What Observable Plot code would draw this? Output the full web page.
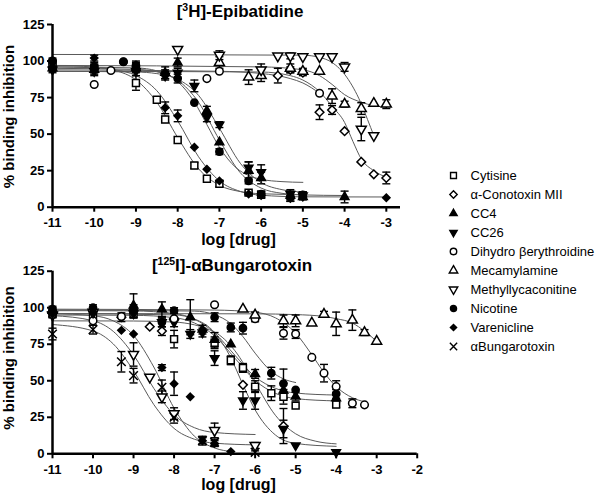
<!DOCTYPE html>
<html><head><meta charset="utf-8">
<script src="https://cdn.jsdelivr.net/npm/d3@7"></script>
<script src="https://cdn.jsdelivr.net/npm/@observablehq/plot@0.6"></script>
<style>
body{margin:0;background:#fff;}
#wrap{position:relative;width:609px;height:502px;overflow:hidden;background:#fff;font-family:Arial,"Liberation Sans",sans-serif;}
#wrap > svg{position:absolute;}
</style></head><body><div id="wrap"></div>
<script>
// ---------- categories & ticks ----------
const drugs = ["Cytisine","α-Conotoxin MII","CC4","CC26","Dihydro βerythroidine","Mecamylamine","Methyllycaconitine","Nicotine","Varenicline","αBungarotoxin"];
const epiTicksX = [-11,-10,-9,-8,-7,-6,-5,-4,-3];
const bgtTicksX = [-11,-10,-9,-8,-7,-6,-5,-4,-3,-2];
const ticksY = [0,25,50,75,100,125];

// ---------- [3H]-Epibatidine: [log dose, % inhibition, error] ----------
const epi_cytisine = [[-11,97,3],[-10,95,3],[-9,85,5],[-8.5,73.5,0],[-8.3,60,2],[-8,46,0],[-7.6,28.5,2],[-7.3,19.5,0],[-7,16,2],[-6.3,10,1],[-6,8.5,2],[-5,8,1]];
const epi_conotoxin = [[-5.6,90,5],[-5.3,94,2],[-5,92,2],[-4.6,65,5],[-4.3,66.5,3],[-4,52,0],[-3.6,31,0],[-3.3,22.5,0],[-3,20,4]];
const epi_cc4 = [[-11,95,2],[-10,94,3],[-9,95,3],[-8.3,92,4],[-8,99,3],[-7.3,66,3],[-7,44.5,0],[-6.3,25,6],[-6,20,4],[-5.3,8,3],[-5,7,2],[-4,7,4]];
const epi_cc26 = [[-11,94,2],[-10,93,3],[-9,93,3],[-8.3,90,3],[-8,92,3],[-7.6,83,4],[-7.3,61.5,3],[-7,56.5,2],[-6.3,27,4],[-6,24,5],[-5.3,9,3],[-5,8,2]];
const epi_dihydro = [[-11,100,0],[-10,84,0],[-9.6,93.5,0],[-9.3,99.5,0],[-7.3,88,0],[-7,93,0],[-4.6,78,0]];
const epi_mecamylamine = [[-7,99,4],[-6.3,89,5],[-6,90,4],[-5.3,95,3],[-5,93,2],[-4.6,93,0],[-4.3,76,5],[-4,70.5,2],[-3.6,67.5,4],[-3.3,71,0],[-3,70.5,3]];
const epi_mla = [[-8,108,0],[-7,104,3],[-6,94,4],[-5.6,103.5,0],[-5.3,103.5,2],[-5,103,0],[-4.6,103,0],[-4.3,103,0],[-4,96,3],[-3.6,53.5,8],[-3.3,49,0]];
const epi_nicotine = [[-11,100,2],[-10,96,3],[-9.3,99.5,0],[-9,97,3],[-8.3,91,3],[-8,88,3],[-7.6,71.5,0],[-7,38,2],[-6.3,18,2],[-6,9,2],[-5.3,7,3],[-5,8.5,2]];
const epi_varenicline = [[-11,96,2],[-10,102,2],[-9,96,3],[-8.3,68,4],[-8,62.5,4],[-7.6,41,0],[-7.3,26,0],[-7,18,0],[-6.3,9,1],[-6,8,1],[-5.3,6,2],[-5,7,1],[-3,6.5,0]];
const epi_bungarotoxin = [];

// fitted curves: [log dose, %]
const fitEpi_cytisine = [[-11,97],[-10,95.9],[-9.5,93.6],[-9,87.1],[-8.5,71.8],[-8,47.7],[-7.5,26.3],[-7,15],[-6.5,10.7],[-6,9.2],[-5,8.6]];
const fitEpi_conotoxin = [[-11,93],[-6,92.5],[-5.3,90],[-5,87],[-4.6,79],[-4.3,69],[-4,58],[-3.8,45],[-3.6,33],[-3.3,25],[-3,20.5]];
const fitEpi_cc4 = [[-11,95],[-9,94.3],[-8.5,92.6],[-8,86.9],[-7.5,71.8],[-7,46],[-6.5,23.6],[-6,13.1],[-5.5,9.5],[-5,8.4],[-4,8]];
const fitEpi_cc26 = [[-11,93],[-9,92.5],[-8.5,91.4],[-8,87.6],[-7.5,76.5],[-7,54],[-6.5,30.1],[-6,16.9],[-5.5,12],[-5,10.4]];
const fitEpi_dihydro = [[-11,94],[-7,93],[-6,91.5],[-5.3,88],[-5,85],[-4.6,78]];
const fitEpi_mecamylamine = [[-11,97],[-6,96],[-5,94],[-4.6,90],[-4.3,84],[-4,77],[-3.6,71.8],[-3.3,69.5],[-3,68.5]];
const fitEpi_mla = [[-11,104.5],[-5,104],[-4.6,102.5],[-4.3,99],[-3.95,89],[-3.62,72],[-3.45,60],[-3.3,49]];
const fitEpi_nicotine = [[-11,96],[-9,95.3],[-8.5,93.3],[-8,86],[-7.6,72],[-7.3,56.5],[-7,41],[-6.6,27],[-6.3,21.7],[-6,19.1],[-5.5,17.5],[-5,17]];
const fitEpi_varenicline = [[-11,96],[-10,95.4],[-9.5,94],[-9,90.1],[-8.5,79.7],[-8,59.1],[-7.5,34.5],[-7,18],[-6.5,10.8],[-6,8.2],[-5,7.1],[-3,7]];
const fitEpi_bungarotoxin = [];

// ---------- [125I]-αBungarotoxin ----------
const bgt_cytisine = [[-11,96,2],[-10,95,2],[-9,96,3],[-8,78.5,6],[-7,76,4],[-6.6,64,3],[-6.3,58.8,3],[-6,46,4],[-5.6,41.5,5],[-5.3,39,5],[-5,33,0],[-4,33.7,2]];
const bgt_conotoxin = [[-9.3,93.5,3],[-8.6,87,0],[-8.3,84,3],[-8,92.5,0],[-6.3,47.2,0],[-5.3,19,12]];
const bgt_cc4 = [[-11,98,2],[-9,101.5,8],[-8.3,99,5],[-7.6,93.5,12],[-7.3,85,3],[-7,78,5],[-6.6,75,0],[-6,54.7,3],[-5.3,43.3,5],[-5,39.2,3],[-4,38,3]];
const bgt_cc26 = [[-11,95.5,2],[-10,96,2],[-9,96,3],[-8.3,90,3],[-8,90,3],[-7.6,82,3],[-7.3,83,3],[-7,65.5,5],[-6.3,36.5,6],[-6,36.5,6],[-5.3,17,6],[-5,5.7,0],[-4,1.1,0]];
const bgt_dihydro = [[-10,91,3],[-9.3,94,0],[-8,92.5,0],[-7,102,0],[-6,92.4,2],[-5.3,82.5,4],[-5,82,3],[-4.6,66,0],[-4.3,55.2,6],[-4,46,4],[-3.6,34.6,3],[-3.3,33.5,0]];
const bgt_mecamylamine = [[-6.3,99,0],[-6,95,2],[-5.3,91,4],[-5,91,4],[-4.6,89.5,0],[-4.3,95.5,2],[-4,89,8],[-3.6,91.5,7],[-3.3,83,2],[-3,77,0]];
const bgt_mla = [[-11,95,2],[-10,97,2],[-9,68,8],[-8.6,52.5,0],[-8.3,39,4],[-8,27.5,4],[-7,16,5],[-6,5.7,2]];
const bgt_nicotine = [[-11,99,2],[-10,100,2],[-9,99,3],[-8.3,90,3],[-8,98,2],[-7,93.5,3],[-6.6,86.5,3],[-6.3,86,4],[-5.6,55.2,4],[-5.3,48,10],[-5,43.8,0],[-4,41,3]];
const bgt_varenicline = [[-11,96,2],[-10,97,2],[-9.3,84.5,0],[-9,82,0],[-8.3,59,2],[-8,48,8],[-7.6,39,0],[-7.3,9,2],[-7,7,2],[-6.6,1.5,0]];
const bgt_bungarotoxin = [[-11,82,4],[-10,85,3],[-9.3,63,7],[-9,53.5,5],[-8.3,45.5,5],[-8,25,4],[-7.3,9,3],[-7,8,2],[-6,1,1]];

const fitBgt_cytisine = [[-11,95],[-9,94.8],[-8,93.2],[-7.5,89.6],[-7,80.8],[-6.5,65.5],[-6,50.2],[-5.5,41.4],[-5,37.8],[-4,36.2]];
const fitBgt_conotoxin = [[-11,91],[-9,90.9],[-8,90.2],[-7,83.3],[-6.5,70.6],[-6,48.5],[-5.5,26.4],[-5,13.7],[-4.5,8.6],[-4,6.8]];
const fitBgt_cc4 = [[-11,98],[-9,97.8],[-8,96],[-7.5,92.2],[-7,82.8],[-6.5,67.5],[-6,52.7],[-5.5,44.8],[-5,41.6],[-4,40.2]];
const fitBgt_cc26 = [[-11,96],[-8,95.1],[-7.5,92.3],[-7,83],[-6.6,65.7],[-6.3,47.3],[-6,30.1],[-5.5,12.9],[-5,7.1],[-4,5.1]];
const fitBgt_dihydro = [[-11,99],[-7,98.4],[-6,96.9],[-5.5,93.1],[-5,82.6],[-4.6,67.8],[-4.3,55.7],[-4,46],[-3.6,38.4],[-3.3,35.6]];
const fitBgt_mecamylamine = [[-11,96],[-6,95.8],[-5,95.3],[-4.3,94],[-4,92.5],[-3.6,89.5],[-3.3,84],[-3,77]];
const fitBgt_mla = [[-11,94.6],[-10,91.1],[-9.5,83.8],[-9,67.7],[-8.5,44.8],[-8,26.7],[-7.5,17.9],[-7,14.6],[-6,13.2]];
const fitBgt_nicotine = [[-11,98.5],[-7.5,97.7],[-7,95.2],[-6.6,89.1],[-6.3,80.2],[-6,68.9],[-5.6,56.4],[-5.3,51.3],[-5,48.8]];
const fitBgt_varenicline = [[-11,96],[-10,94.5],[-9.5,91],[-9,81],[-8.5,59.4],[-8,31.3],[-7.5,12.1],[-7,4],[-6.55,1.4]];
const fitBgt_bungarotoxin = [[-11,88.5],[-10,84.1],[-9.5,75.2],[-9,56.9],[-8.5,33.7],[-8,17.4],[-7.5,10],[-7,7.3],[-6,6.1]];

// ---------- styles ----------
const triangleDown = {draw(ctx, size){
  const y = -Math.sqrt(size / (Math.sqrt(3) * 3));
  ctx.moveTo(0, -y * 2); ctx.lineTo(-Math.sqrt(3) * y, y); ctx.lineTo(Math.sqrt(3) * y, y); ctx.closePath();
}};
const capSymbol = {draw(ctx, size){
  const w = Math.sqrt(size / Math.PI);
  ctx.moveTo(-w, 0); ctx.lineTo(w, 0);
}};
const styleOf = {
  "Cytisine": {symbol: "square", fill: "white", r: 3.9},
  "α-Conotoxin MII": {symbol: "diamond2", fill: "white", r: 3.9},
  "CC4": {symbol: "triangle", fill: "black", r: 3.2},
  "CC26": {symbol: triangleDown, fill: "black", r: 3.2},
  "Dihydro βerythroidine": {symbol: "circle", fill: "white", r: 3.8},
  "Mecamylamine": {symbol: "triangle", fill: "white", r: 3.7},
  "Methyllycaconitine": {symbol: triangleDown, fill: "white", r: 3.7},
  "Nicotine": {symbol: "circle", fill: "black", r: 3.6},
  "Varenicline": {symbol: "diamond2", fill: "black", r: 3.3},
  "αBungarotoxin": {symbol: "times", fill: "none", r: 4.0}
};

const epiPts = [epi_cytisine, epi_conotoxin, epi_cc4, epi_cc26, epi_dihydro, epi_mecamylamine, epi_mla, epi_nicotine, epi_varenicline, epi_bungarotoxin];
const epiFits = [fitEpi_cytisine, fitEpi_conotoxin, fitEpi_cc4, fitEpi_cc26, fitEpi_dihydro, fitEpi_mecamylamine, fitEpi_mla, fitEpi_nicotine, fitEpi_varenicline, fitEpi_bungarotoxin];
const bgtPts = [bgt_cytisine, bgt_conotoxin, bgt_cc4, bgt_cc26, bgt_dihydro, bgt_mecamylamine, bgt_mla, bgt_nicotine, bgt_varenicline, bgt_bungarotoxin];
const bgtFits = [fitBgt_cytisine, fitBgt_conotoxin, fitBgt_cc4, fitBgt_cc26, fitBgt_dihydro, fitBgt_mecamylamine, fitBgt_mla, fitBgt_nicotine, fitBgt_varenicline, fitBgt_bungarotoxin];

const font = 'Arial, "Liberation Sans", sans-serif';

function panel(ptsList, fitList, xDomain, xTicks, layout) {
  const curves = [], errs = [], caps = [], dots = [];
  drugs.forEach((drug, i) => {
    const st = styleOf[drug];
    const pts = ptsList[i].map(([x, y, e]) => ({x, y, e}));
    const fit = fitList[i].map(([x, y]) => ({x, y}));
    if (fit.length) curves.push(Plot.line(fit, {x: "x", y: "y", curve: "monotone-x", stroke: "#5a5a5a", strokeWidth: 1}));
    const withErr = pts.filter(d => d.e > 0);
    if (withErr.length) {
      errs.push(Plot.ruleX(withErr, {x: "x", y1: d => d.y - d.e, y2: d => d.y + d.e, stroke: "black", strokeWidth: 1.4}));
      caps.push(Plot.dot(withErr.flatMap(d => [{x: d.x, y: d.y + d.e}, {x: d.x, y: d.y - d.e}]),
        {x: "x", y: "y", symbol: capSymbol, r: 4, stroke: "black", strokeWidth: 1.4, fill: "none"}));
    }
    if (pts.length) dots.push(Plot.dot(pts, {x: "x", y: "y", symbol: st.symbol, r: st.r, fill: st.fill, stroke: "black", strokeWidth: 1.5}));
  });
  return Plot.plot({
    width: layout.width, height: layout.height,
    marginLeft: 52, marginRight: layout.marginRight, marginTop: layout.marginTop, marginBottom: layout.marginBottom,
    style: {fontFamily: font, background: "transparent", overflow: "visible", color: "black"},
    x: {domain: xDomain},
    y: {domain: [0, 125]},
    marks: [
      ...curves, ...errs, ...caps, ...dots,
      Plot.ruleY([0], {strokeWidth: 2.5}),
      Plot.ruleX([-11], {strokeWidth: 2.5}),
      Plot.axisX(xTicks, {tickSize: 5, tickPadding: 6, fontSize: 13, fontWeight: "bold", strokeWidth: 2, tickFormat: d => String(d), label: null}),
      Plot.axisY(ticksY, {tickSize: 5, tickPadding: 3, fontSize: 13, fontWeight: "bold", strokeWidth: 2, tickFormat: d => String(d), label: null})
    ]
  });
}

const wrap = document.getElementById("wrap");

const top1 = panel(epiPts, epiFits, [-11, -2.66], epiTicksX, {width: 430, height: 250, marginRight: 30, marginTop: 24, marginBottom: 43.3});
top1.style.left = "0px"; top1.style.top = "0px";
wrap.appendChild(top1);

const bot1 = panel(bgtPts, bgtFits, [-11, -2], bgtTicksX, {width: 430, height: 252, marginRight: 13.3, marginTop: 20.7, marginBottom: 48.7});
bot1.style.left = "0px"; bot1.style.top = "250px";
wrap.appendChild(bot1);

// legend
const legend = Plot.plot({
  width: 179, height: 220, margin: 0,
  style: {fontFamily: font, background: "transparent", overflow: "visible", color: "black"},
  y: {type: "point", domain: drugs, range: [15, 205], axis: null},
  marks: [
    ...drugs.map(d => Plot.dot([d], {y: v => v, frameAnchor: "left", dx: 23, symbol: styleOf[d].symbol, r: styleOf[d].r * 0.85, fill: styleOf[d].fill, stroke: "black", strokeWidth: 1.4})),
    Plot.text(drugs, {y: d => d, text: d => d, frameAnchor: "left", textAnchor: "start", dx: 40, fontSize: 13})
  ]
});
legend.style.left = "430px"; legend.style.top = "150px";
wrap.appendChild(legend);

// titles and axis labels
const ns = "http://www.w3.org/2000/svg";
const ov = document.createElementNS(ns, "svg");
ov.setAttribute("width", 609); ov.setAttribute("height", 502);
ov.style.left = "0px"; ov.style.top = "0px"; ov.style.pointerEvents = "none";
ov.innerHTML = `
<g font-family='${font}' font-weight="bold" fill="black">
  <text x="240" y="17" text-anchor="middle" font-size="17">[<tspan font-size="10.5" dy="-6">3</tspan><tspan dy="6">H]-Epibatidine</tspan></text>
  <text x="232" y="271" text-anchor="middle" font-size="17">[<tspan font-size="10.5" dy="-6">125</tspan><tspan dy="6">I]-αBungarotoxin</tspan></text>
  <text x="238.5" y="245" text-anchor="middle" font-size="16">log [drug]</text>
  <text x="238.5" y="490" text-anchor="middle" font-size="16">log [drug]</text>
  <text transform="translate(14,116.5) rotate(-90)" text-anchor="middle" font-size="15">% binding inhibition</text>
  <text transform="translate(14,358) rotate(-90)" text-anchor="middle" font-size="15">% binding inhibition</text>
</g>`;
wrap.appendChild(ov);
</script>
</body></html>
